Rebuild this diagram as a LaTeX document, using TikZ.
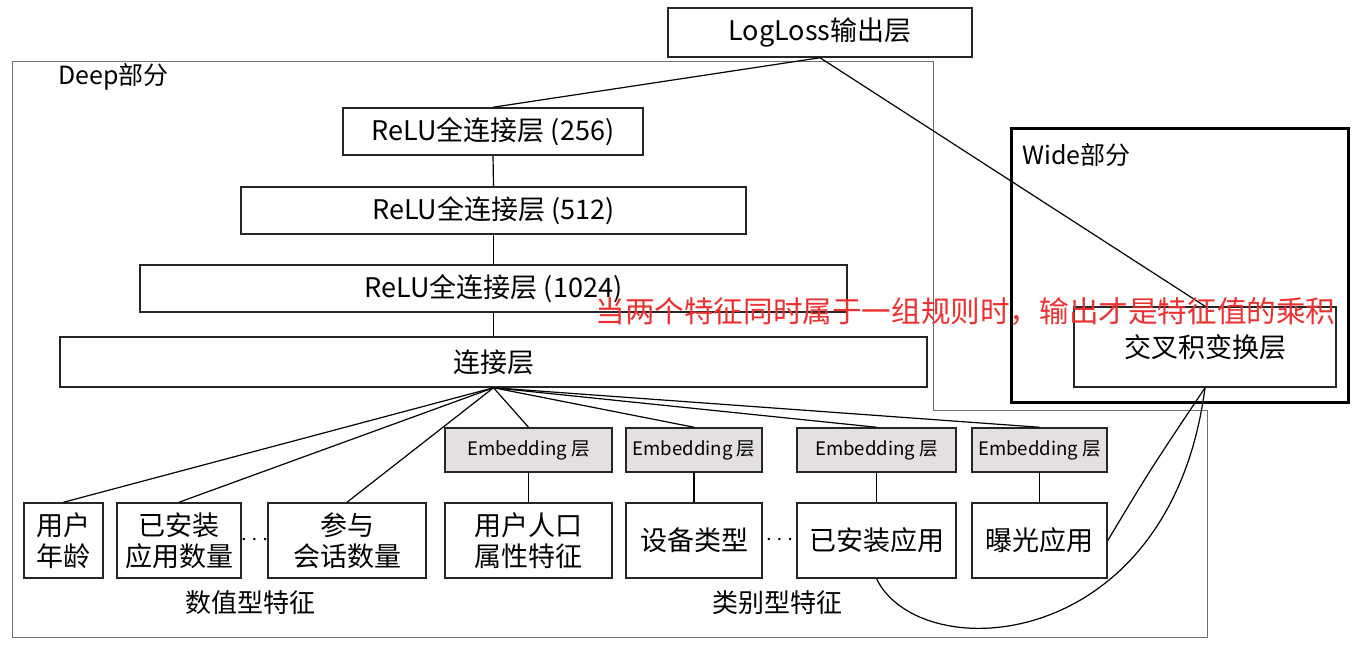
\documentclass[tikz,border=0pt]{standalone}
\usepackage{fontspec}
\setmainfont{Noto Sans CJK SC}
\newfontfamily\cjk{Noto Sans CJK SC}
\definecolor{redtxt}{HTML}{EE3030}
\definecolor{embfill}{HTML}{E4E0E0}
\definecolor{deepline}{HTML}{707070}
\begin{document}
\begin{tikzpicture}[x=0.5pt,y=-0.5pt,
  box/.style={draw=black!85, line width=0.75pt, fill=white, inner sep=0pt, font=\fontsize{13.5}{15.5}\selectfont, align=center},
  emb/.style={draw=black!85, line width=0.75pt, fill=embfill, inner sep=0pt, font=\fontsize{9.3}{10}\selectfont, minimum height=22pt},
  feat/.style={box, minimum height=37.5pt},
  conn/.style={draw=black, line width=0.6pt},
  lbl/.style={font=\fontsize{12.5}{15}\selectfont, inner sep=0pt}
]
\useasboundingbox (0,0) rectangle (1354,646);
% Deep outline
\draw[deepline, line width=0.5pt] (12,62) -- (933,62) -- (933,411) -- (1207,411) -- (1207,637) -- (12,637) -- cycle;
\node[lbl, anchor=west] (deeplbl) at (58,77) {Deep部分};
% Wide box
\draw[black, line width=1.5pt] (1011,129) rectangle (1348,403);
\node[lbl, anchor=west] (widelbl) at (1022,155) {Wide部分};

% boxes
\node[box, minimum width=152pt, minimum height=24.5pt] (loss) at (820,32.5) {LogLoss输出层};
\node[box, minimum width=150pt, minimum height=23.5pt] (r256) at (493,131.5) {ReLU全连接层 (256)};
\node[box, minimum width=252.5pt, minimum height=23.5pt] (r512) at (493.5,210.5) {ReLU全连接层 (512)};
\node[box, minimum width=353.5pt, minimum height=23.5pt] (r1024) at (493.5,288.5) {ReLU全连接层 (1024)};
\node[box, minimum width=433.5pt, minimum height=25pt] (concat) at (493.5,362) {连接层};
\node[box, minimum width=131pt, minimum height=40pt] (cross) at (1205,347) {交叉积变换层};

% embeddings
\node[emb, minimum width=83.5pt] (e1) at (528.5,450) {Embedding 层};
\node[emb, minimum width=68pt] (e2) at (694,450) {Embedding 层};
\node[emb, minimum width=79.5pt] (e3) at (876.5,450) {Embedding 层};
\node[emb, minimum width=67.5pt] (e4) at (1039.5,450) {Embedding 层};

% features
\node[feat, minimum width=39.5pt] (f1) at (63.5,540.5) {用户\\年龄};
\node[feat, minimum width=62pt] (f2) at (179,540.5) {已安装\\应用数量};
\node[feat, minimum width=79pt] (f3) at (347,540.5) {参与\\会话数量};
\node[feat, minimum width=83.5pt] (f4) at (528.5,540.5) {用户人口\\属性特征};
\node[feat, minimum width=68pt] (f5) at (694,540.5) {设备类型};
\node[feat, minimum width=79.5pt] (f6) at (876.5,540.5) {已安装应用};
\node[feat, minimum width=67.5pt] (f7) at (1039.5,540.5) {曝光应用};

\node[lbl, font=\fontsize{13}{15}\selectfont] (dots1) at (254.5,540) {$\cdots$};
\node[lbl, font=\fontsize{13}{15}\selectfont] (dots2) at (779.5,540) {$\cdots$};
\node[lbl, font=\fontsize{13}{15}\selectfont] (numlbl) at (250,603) {数值型特征};
\node[lbl, font=\fontsize{13}{15}\selectfont] (catlbl) at (777,603) {类别型特征};

% connectors
\draw[conn] (loss.south) -- (r256.north);
\draw[conn] (r256.south) -- (r512.north);
\draw[conn] (r512.south) -- (r1024.north);
\draw[conn] (r1024.south) -- (concat.north);
\draw[conn] (loss.south) -- (cross.north);
\foreach \t in {f1,f2,f3,e1,e2,e3,e4}{
  \draw[conn] (concat.south) -- (\t.north);
}
\draw[conn] (e1.south) -- (f4.north);
\draw[conn] (e2.south) -- (f5.north);
\draw[conn] (e3.south) -- (f6.north);
\draw[conn] (e4.south) -- (f7.north);
\draw[conn] (f7.east) .. controls (1150,470) .. (cross.south);
\draw[conn] (f6.south) .. controls (920,668) and (1170,655) .. (cross.south);

% red annotation
\node[anchor=west, inner sep=0pt, text=redtxt, font=\fontsize{14.8}{17}\selectfont] (note) at (595,312) {当两个特征同时属于一组规则时，输出才是特征值的乘积};
\end{tikzpicture}
\end{document}
